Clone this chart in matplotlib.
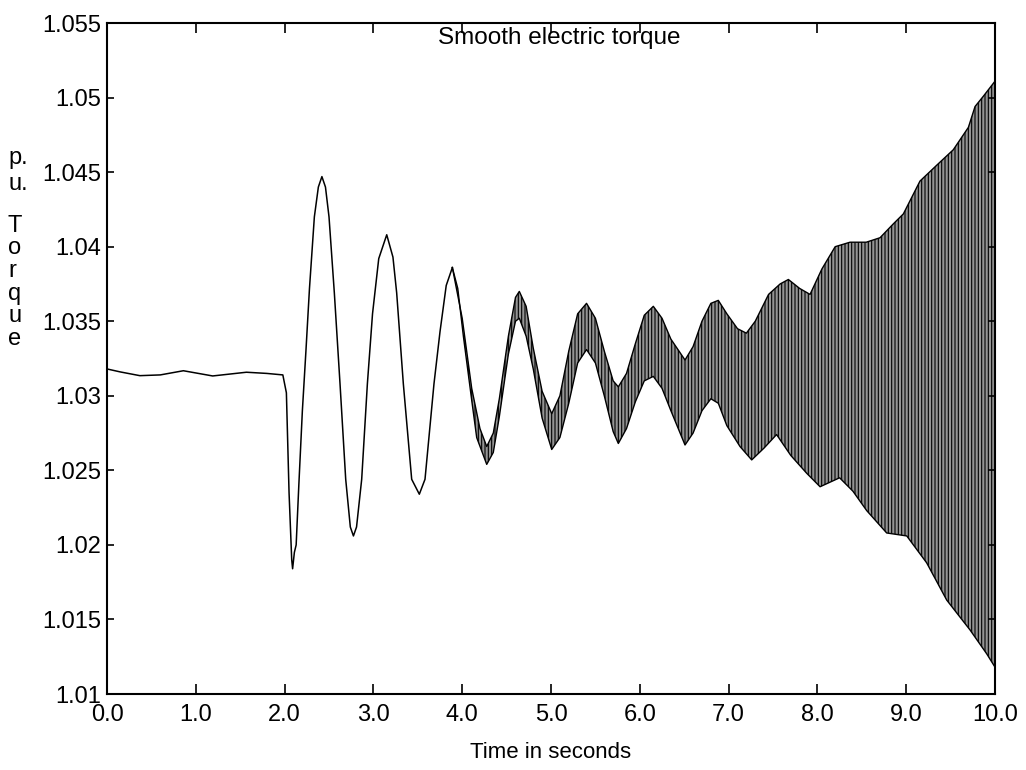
import numpy as np
import matplotlib.pyplot as plt

plt.rcParams['font.family'] = ['Liberation Sans', 'DejaVu Sans']
plt.rcParams['hatch.color'] = 'black'
plt.rcParams['hatch.linewidth'] = 0.8

# single trace before the fast ripple builds up (time s, torque p.u.)
t_line = [0.00, 0.15, 0.37, 0.60, 0.86, 1.19, 1.57, 1.80, 1.98, 2.02, 2.05, 2.08,
          2.09, 2.11, 2.13, 2.16, 2.20, 2.24, 2.28, 2.335, 2.38, 2.42, 2.46, 2.50,
          2.56, 2.624, 2.688, 2.74, 2.775, 2.81, 2.868, 2.932, 2.99, 3.06, 3.15,
          3.22, 3.262, 3.337, 3.431, 3.517, 3.581, 3.682, 3.75, 3.82, 3.889]
v_line = [1.0318, 1.0316, 1.03135, 1.0314, 1.03168, 1.03133, 1.03158, 1.0315,
          1.0314, 1.0302, 1.0235, 1.0190, 1.0184, 1.0195, 1.0200, 1.0240, 1.0290,
          1.0330, 1.0372, 1.0420, 1.0440, 1.0447, 1.0440, 1.0420, 1.0369, 1.0308,
          1.0244, 1.0212, 1.0206, 1.0212, 1.0244, 1.0308, 1.0355, 1.0392, 1.0408,
          1.0393, 1.0369, 1.0308, 1.0244, 1.0234, 1.0244, 1.0308, 1.0343, 1.0374,
          1.0386]

# upper envelope of the ripple band
t_up = [3.889, 4.00, 4.107, 4.20, 4.276, 4.35, 4.418, 4.52, 4.60, 4.643, 4.72,
        4.80, 4.90, 5.008, 5.10, 5.20, 5.30, 5.40, 5.50, 5.60, 5.70, 5.758, 5.85,
        5.95, 6.05, 6.152, 6.25, 6.35, 6.509, 6.60, 6.70, 6.80, 6.884, 6.98, 7.10,
        7.20, 7.30, 7.45, 7.58, 7.673, 7.80, 7.917, 8.05, 8.20, 8.367, 8.55, 8.705,
        8.85, 8.968, 9.155, 9.35, 9.53, 9.70, 9.775, 9.87, 10.0]
v_up = [1.0386, 1.0352, 1.0305, 1.0278, 1.0266, 1.0275, 1.0298, 1.0340, 1.0366,
        1.0370, 1.0360, 1.0332, 1.0303, 1.0288, 1.0300, 1.0330, 1.0355, 1.0362,
        1.0352, 1.0330, 1.0310, 1.0306, 1.0315, 1.0335, 1.0354, 1.0360, 1.0352,
        1.0338, 1.0324, 1.0333, 1.0350, 1.0362, 1.0364, 1.0355, 1.0345, 1.0342,
        1.0350, 1.0368, 1.0375, 1.0378, 1.0372, 1.0368, 1.0385, 1.0400, 1.0403,
        1.0403, 1.0406, 1.0415, 1.0422, 1.0444, 1.0455, 1.0465, 1.0480, 1.0494,
        1.0501, 1.0511]

# lower envelope of the ripple band
t_lo = [3.889, 3.95, 4.013, 4.107, 4.163, 4.276, 4.35, 4.418, 4.52, 4.60, 4.643,
        4.72, 4.80, 4.90, 5.008, 5.10, 5.20, 5.30, 5.40, 5.50, 5.60, 5.70, 5.758,
        5.85, 5.95, 6.05, 6.152, 6.25, 6.35, 6.509, 6.60, 6.70, 6.80, 6.884, 6.98,
        7.128, 7.26, 7.40, 7.54, 7.70, 7.88, 8.03, 8.25, 8.40, 8.555, 8.78, 9.006,
        9.23, 9.456, 9.718, 9.906, 10.0]
v_lo = [1.0386, 1.0372, 1.0340, 1.0297, 1.0272, 1.0254, 1.0262, 1.0286, 1.0328,
        1.0350, 1.0352, 1.0340, 1.0318, 1.0285, 1.0264, 1.0272, 1.0295, 1.0322,
        1.0331, 1.0322, 1.0300, 1.0276, 1.0268, 1.0278, 1.0296, 1.0310, 1.0313,
        1.0305, 1.0290, 1.0267, 1.0275, 1.0290, 1.0298, 1.0295, 1.0280, 1.0266,
        1.0257, 1.0265, 1.0274, 1.0260, 1.0248, 1.0239, 1.0245, 1.0236, 1.0223,
        1.0208, 1.0206, 1.0188, 1.0163, 1.0143, 1.0127, 1.0118]

x_ticks = np.arange(0, 11, 1.0)
y_ticks = [1.01, 1.015, 1.02, 1.025, 1.03, 1.035, 1.04, 1.045, 1.05, 1.055]
y_tick_labels = ['1.01', '1.015', '1.02', '1.025', '1.03', '1.035', '1.04',
                 '1.045', '1.05', '1.055']

fig = plt.figure(figsize=(10.26, 7.70), dpi=100)
ax = fig.add_axes([0.1043, 0.0987, 0.8655, 0.8714])

ax.plot(t_line, v_line, color='black', lw=1.1)
band_t = np.r_[t_up, t_lo[::-1]]
band_v = np.r_[v_up, v_lo[::-1]]
ax.fill(band_t, band_v, facecolor='0.58', edgecolor='black', linewidth=0,
        hatch='|||||')
ax.plot(t_up, v_up, color='black', lw=1.0)
ax.plot(t_lo, v_lo, color='black', lw=1.0)

ax.set_xlim(0, 10)
ax.set_ylim(1.01, 1.055)
ax.set_xticks(x_ticks)
ax.set_xticklabels([f'{x:.1f}' for x in x_ticks])
ax.set_yticks(y_ticks)
ax.set_yticklabels(y_tick_labels)
ax.tick_params(axis='both', direction='in', top=True, right=True,
               labelsize=17, width=1.2)
ax.tick_params(axis='x', length=7, pad=7)
ax.tick_params(axis='y', length=5, pad=4)
for s in ax.spines.values():
    s.set_linewidth(1.5)

ax.text(0.509, 0.978, 'Smooth electric torque', transform=ax.transAxes,
        ha='center', va='center', fontsize=17.5)
ax.set_xlabel('Time in seconds', fontsize=16, labelpad=12)

# stacked y label letters
ylab = [('p.', 158), ('u.', 184), ('T', 226), ('o', 248), ('r', 271),
        ('q', 294), ('u', 316), ('e', 339)]
for s, ypix in ylab:
    fig.text(8 / 1026, 1 - ypix / 770, s, ha='left', va='center', fontsize=17)

fig.savefig('out.png', dpi=100)
